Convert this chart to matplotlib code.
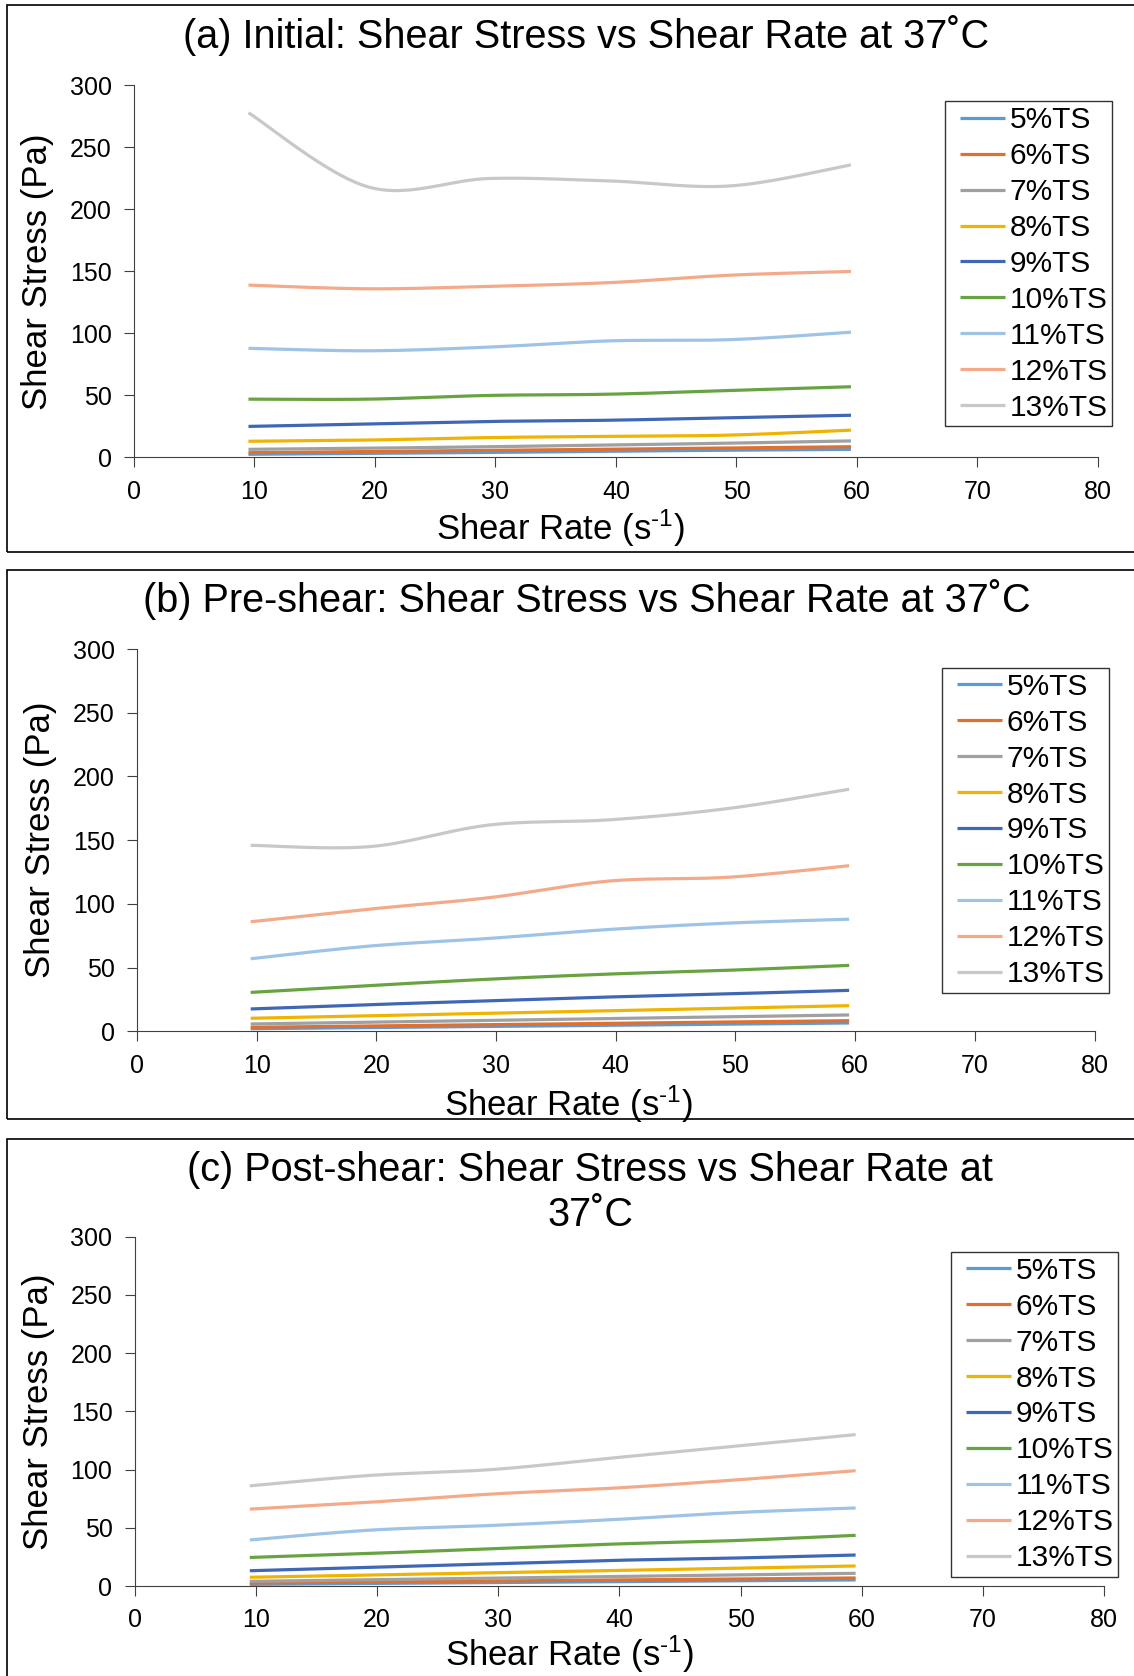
import numpy as np
import matplotlib
matplotlib.use("Agg")
import matplotlib.pyplot as plt
from matplotlib.patches import Rectangle
from matplotlib.legend_handler import HandlerLine2D

plt.rcParams["font.family"] = ["Liberation Sans", "DejaVu Sans"]
plt.rcParams["mathtext.default"] = "regular"

shear_rate = [9.5, 19.5, 29.5, 39.5, 49.5, 59.5]
labels = ["5%TS", "6%TS", "7%TS", "8%TS", "9%TS", "10%TS", "11%TS", "12%TS", "13%TS"]
colors = ["#5B9BD5", "#E07030", "#A0A0A0", "#F0B400", "#3F67B5",
          "#68A342", "#9DC3E6", "#F4AA88", "#C8C8C8"]

initial = [
    [2.5, 3.3, 4.0, 5.0, 5.8, 6.5],
    [3.8, 4.7, 5.6, 6.6, 7.6, 8.6],
    [6.5, 7.4, 8.6, 10.0, 11.5, 13.3],
    [13, 14, 16, 17, 18, 22],
    [25, 27, 29, 30, 32, 34],
    [47, 47, 50, 51, 54, 57],
    [88, 86, 89, 94, 95, 101],
    [139, 136, 138, 141, 147, 150],
    [278, 218, 225, 223, 219, 236],
]
pre_shear = [
    [2.1, 3.0, 3.9, 4.8, 5.7, 6.6],
    [3.2, 4.2, 5.3, 6.3, 7.4, 8.4],
    [5.8, 7.2, 8.6, 10.0, 11.5, 12.9],
    [10.3, 12.3, 14.3, 16.2, 18.2, 20.2],
    [17.6, 21, 24, 27, 29.5, 32.2],
    [30.6, 36, 41, 45, 48, 51.8],
    [57, 67, 73, 80, 85, 88],
    [86, 96, 105, 118, 121, 130],
    [146, 145, 162, 166, 175, 190],
]
post_shear = [
    [1.4, 2.2, 3.0, 3.7, 4.5, 5.2],
    [2.6, 3.5, 4.3, 5.2, 6.0, 6.9],
    [4.0, 5.4, 6.8, 8.1, 9.5, 10.9],
    [7.5, 9.4, 11.3, 13.3, 15.2, 17.2],
    [13.1, 16, 19, 22, 24, 26.6],
    [24.5, 28, 32, 36, 39, 43.5],
    [39.5, 48, 52, 57, 63, 67],
    [66, 72, 79, 84, 91, 99],
    [86, 95, 100, 110, 120, 130],
]

W, H = 1134, 1676
fig = plt.figure(figsize=(W / 100, H / 100), dpi=100)


def smooth(x, y, n=30):
    # Bezier smoothing between points, control points from neighbouring slopes
    x = np.asarray(x, float)
    y = np.asarray(y, float)
    px, py = [], []
    for i in range(len(x) - 1):
        i0 = max(i - 1, 0)
        i3 = min(i + 2, len(x) - 1)
        c1x = x[i] + (x[i + 1] - x[i0]) / 6
        c1y = y[i] + (y[i + 1] - y[i0]) / 6
        c2x = x[i + 1] - (x[i3] - x[i]) / 6
        c2y = y[i + 1] - (y[i3] - y[i]) / 6
        t = np.linspace(0, 1, n)
        a = (1 - t) ** 3
        b = 3 * (1 - t) ** 2 * t
        c = 3 * (1 - t) * t ** 2
        d = t ** 3
        px.append(a * x[i] + b * c1x + c * c2x + d * x[i + 1])
        py.append(a * y[i] + b * c1y + c * c2y + d * y[i + 1])
    return np.concatenate(px), np.concatenate(py)


def px_box(l, t, r, b):
    return [l / W, 1 - b / H, (r - l) / W, (b - t) / H]


panels = [
    dict(data=initial, ax=(134, 85.5, 1098, 457.4), frame=(6.5, 5.5, 1140, 551.5),
         title=["(a) Initial: Shear Stress vs Shear Rate at 37˚C"], tx=586, ty=36,
         xl=0.442, leg=(945, 101.5)),
    dict(data=pre_shear, ax=(137, 649, 1094.5, 1031.4), frame=(6.5, 570, 1140, 1119),
         title=["(b) Pre-shear: Shear Stress vs Shear Rate at 37˚C"], tx=587, ty=600,
         xl=0.451, leg=(942, 668)),
    dict(data=post_shear, ax=(134.7, 1236.6, 1104, 1586), frame=(6.5, 1139, 1140, 1690),
         title=["(c) Post-shear: Shear Stress vs Shear Rate at", "37˚C"], tx=590, ty=1170,
         xl=0.448, leg=(951, 1252)),
]

for p in panels:
    fl, ft, fr, fb = p["frame"]
    fig.patches.append(Rectangle((fl / W, 1 - fb / H), (fr - fl) / W, (fb - ft) / H,
                                 transform=fig.transFigure, fill=False,
                                 edgecolor="black", linewidth=1.2))
    l, t, r, b = p["ax"]
    ax = fig.add_axes(px_box(l, t, r, b))
    for vals, lab, col in zip(p["data"], labels, colors):
        sx, sy = smooth(shear_rate, vals)
        ax.plot(sx, sy, color=col, linewidth=2.3, label=lab, solid_capstyle="butt")
    ax.set_xlim(0, 80)
    ax.set_ylim(0, 300)
    ax.set_xticks(range(0, 81, 10))
    ax.set_yticks(range(0, 301, 50))
    for s in ["top", "right"]:
        ax.spines[s].set_visible(False)
    ax.spines["left"].set_color("#404040")
    ax.spines["bottom"].set_color("#404040")
    ax.tick_params(axis="both", labelsize=18, direction="out", length=7,
                   color="#404040", pad=9)
    ax.set_xlabel("Shear Rate (s$^{‐1}$)", fontsize=25, labelpad=3)
    ax.xaxis.set_label_coords(p["xl"], -0.135)
    ax.set_ylabel("Shear Stress (Pa)", fontsize=25, labelpad=11)
    for k, line in enumerate(p["title"]):
        fig.text(p["tx"] / W, 1 - (p["ty"] + k * 45) / H, line,
                 fontsize=28.5, ha="center", va="center")
    lx, ly = p["leg"]
    leg = ax.legend(loc="upper left", bbox_to_anchor=(lx / W, 1 - ly / H),
                    bbox_transform=fig.transFigure, fontsize=21.5, frameon=True,
                    fancybox=False, edgecolor="black", borderaxespad=0,
                    handlelength=1.85, handletextpad=0.15, labelspacing=0.265,
                    borderpad=0.16,
                    handler_map={plt.Line2D: HandlerLine2D(xpad=0.35)})
    leg.get_frame().set_linewidth(1.0)

fig.savefig("out.png", dpi=100)
